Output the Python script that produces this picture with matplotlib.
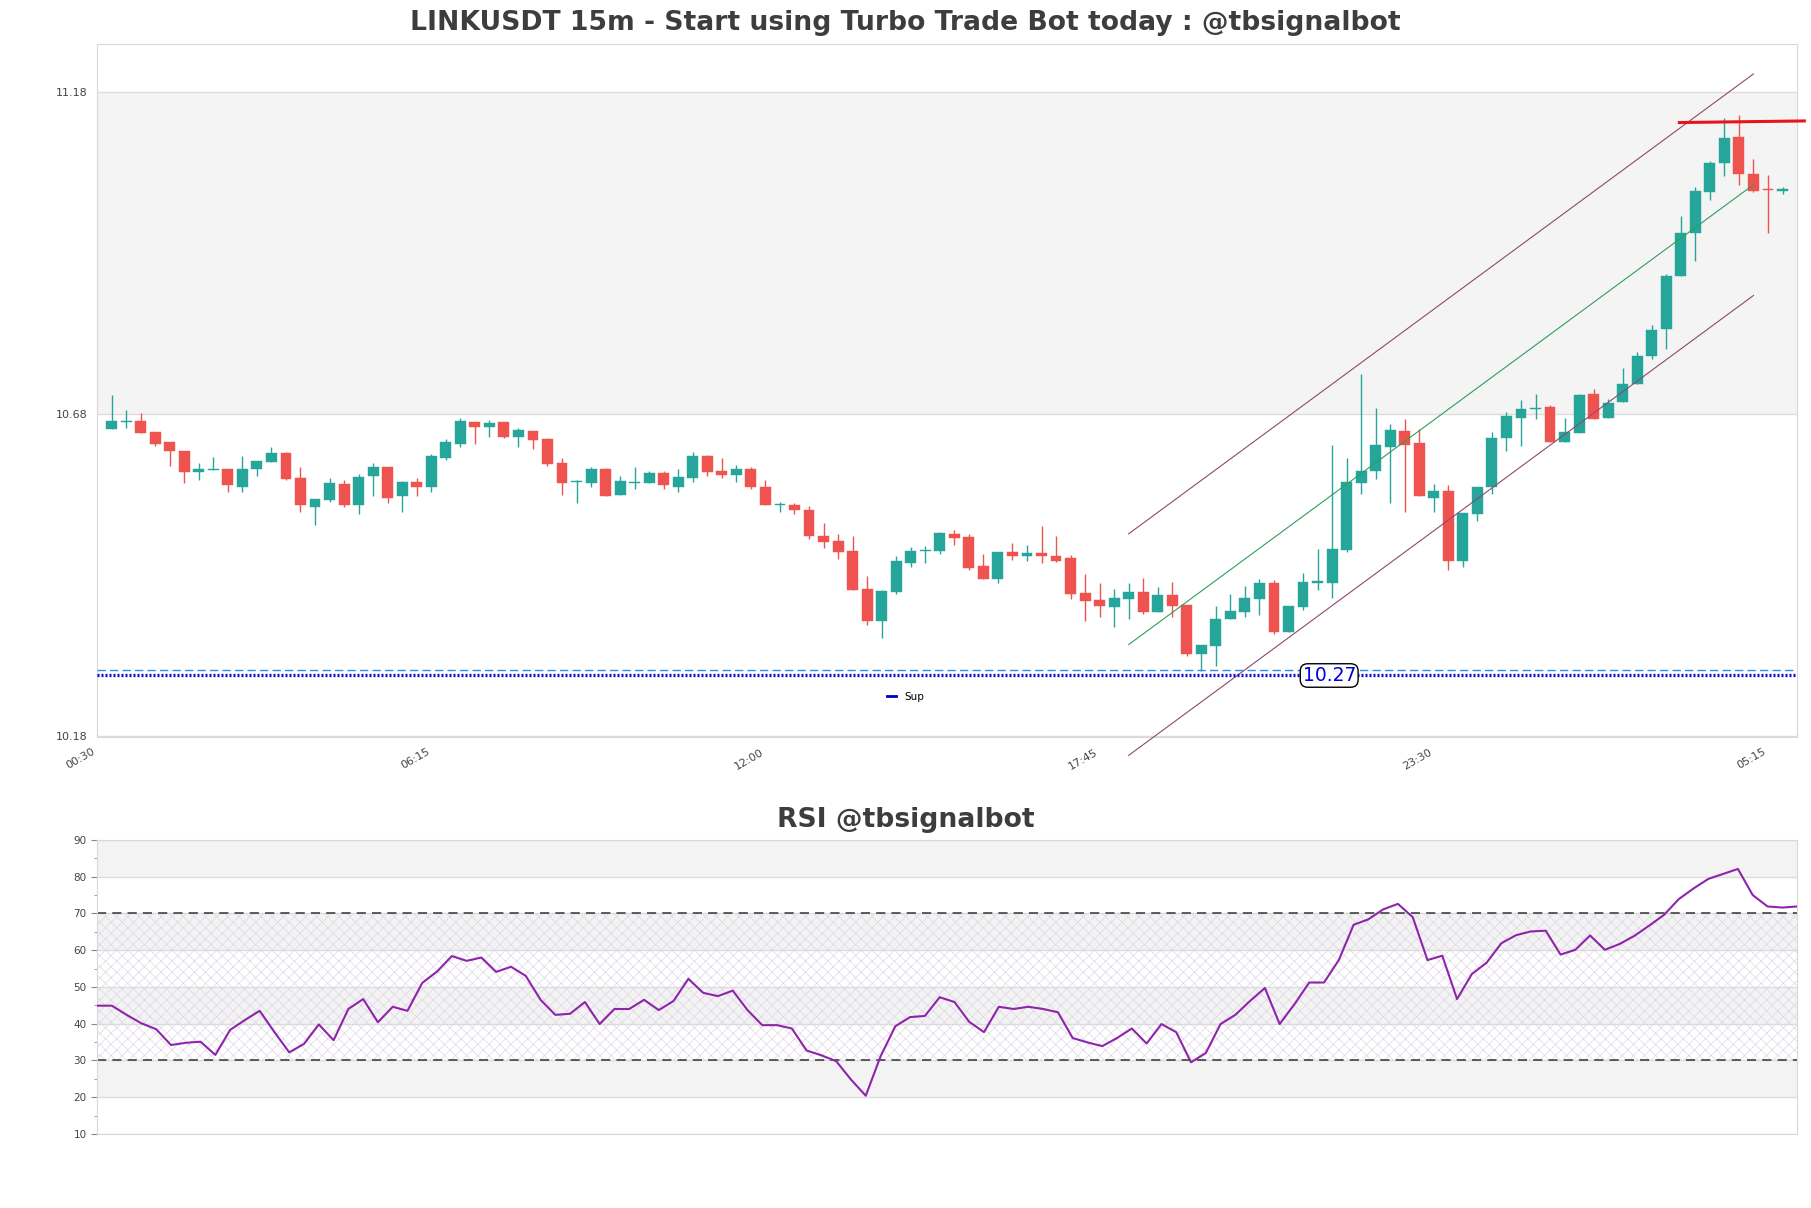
import numpy as np
import matplotlib
matplotlib.use("Agg")
import matplotlib.pyplot as plt
from matplotlib.lines import Line2D

# ---------------- data ----------------
title = "LINKUSDT 15m - Start using Turbo Trade Bot today : @tbsignalbot"
rsi_title = "RSI @tbsignalbot"
time_labels = ["00:30", "06:15", "12:00", "17:45", "23:30", "05:15"]
price_ticks = [10.18, 10.68, 11.18]
rsi_ticks = [10, 20, 30, 40, 50, 60, 70, 80, 90]

opens = [10.657, 10.668, 10.669, 10.652, 10.636, 10.623, 10.590, 10.593, 10.595, 10.567,
         10.594, 10.606, 10.619, 10.581, 10.536, 10.547, 10.571, 10.538, 10.583, 10.597,
         10.552, 10.574, 10.566, 10.612, 10.634, 10.668, 10.660, 10.667, 10.645, 10.654,
         10.641, 10.604, 10.574, 10.573, 10.595, 10.555, 10.573, 10.573, 10.589, 10.567,
         10.581, 10.615, 10.592, 10.586, 10.595, 10.567, 10.538, 10.538, 10.531, 10.491,
         10.483, 10.467, 10.408, 10.358, 10.404, 10.449, 10.467, 10.468, 10.494, 10.489,
         10.444, 10.424, 10.466, 10.459, 10.464, 10.460, 10.456, 10.402, 10.391, 10.381,
         10.393, 10.404, 10.373, 10.399, 10.383, 10.307, 10.320, 10.361, 10.373, 10.392,
         10.417, 10.342, 10.381, 10.418, 10.417, 10.469, 10.573, 10.591, 10.629, 10.654,
         10.635, 10.550, 10.560, 10.452, 10.525, 10.566, 10.642, 10.674, 10.688, 10.691,
         10.637, 10.651, 10.711, 10.674, 10.698, 10.726, 10.770, 10.812, 10.895, 10.961,
         11.025, 11.069, 11.110, 11.052, 11.028, 11.026]
highs = [10.709, 10.686, 10.681, 10.652, 10.636, 10.623, 10.604, 10.613, 10.595, 10.615,
         10.607, 10.629, 10.621, 10.597, 10.548, 10.581, 10.578, 10.587, 10.604, 10.598,
         10.576, 10.581, 10.618, 10.641, 10.674, 10.668, 10.671, 10.667, 10.658, 10.654,
         10.642, 10.611, 10.578, 10.597, 10.596, 10.583, 10.598, 10.592, 10.592, 10.595,
         10.621, 10.616, 10.612, 10.601, 10.597, 10.578, 10.543, 10.542, 10.537, 10.511,
         10.494, 10.491, 10.428, 10.407, 10.460, 10.474, 10.475, 10.497, 10.500, 10.494,
         10.463, 10.466, 10.480, 10.477, 10.506, 10.491, 10.461, 10.432, 10.418, 10.408,
         10.418, 10.425, 10.411, 10.419, 10.383, 10.321, 10.382, 10.401, 10.413, 10.424,
         10.422, 10.382, 10.433, 10.470, 10.632, 10.611, 10.742, 10.690, 10.665, 10.672,
         10.656, 10.572, 10.570, 10.526, 10.566, 10.652, 10.683, 10.702, 10.711, 10.694,
         10.674, 10.711, 10.719, 10.703, 10.751, 10.777, 10.818, 10.897, 10.988, 11.033,
         11.073, 11.139, 11.144, 11.076, 11.051, 11.032]
lows = [10.657, 10.659, 10.650, 10.631, 10.600, 10.573, 10.577, 10.593, 10.559, 10.559,
        10.584, 10.606, 10.577, 10.528, 10.507, 10.544, 10.535, 10.525, 10.552, 10.542,
        10.528, 10.552, 10.559, 10.608, 10.629, 10.634, 10.645, 10.642, 10.628, 10.625,
        10.600, 10.555, 10.542, 10.566, 10.552, 10.555, 10.563, 10.573, 10.563, 10.559,
        10.575, 10.583, 10.580, 10.575, 10.563, 10.538, 10.528, 10.525, 10.486, 10.472,
        10.455, 10.406, 10.353, 10.332, 10.401, 10.443, 10.448, 10.462, 10.476, 10.438,
        10.424, 10.417, 10.454, 10.452, 10.448, 10.450, 10.393, 10.359, 10.365, 10.350,
        10.361, 10.370, 10.373, 10.365, 10.305, 10.281, 10.289, 10.361, 10.365, 10.368,
        10.338, 10.341, 10.375, 10.407, 10.395, 10.465, 10.556, 10.579, 10.542, 10.528,
        10.552, 10.528, 10.438, 10.443, 10.514, 10.556, 10.623, 10.631, 10.673, 10.636,
        10.637, 10.651, 10.673, 10.674, 10.698, 10.726, 10.765, 10.781, 10.895, 10.917,
        11.013, 11.050, 11.035, 11.024, 10.961, 11.021]
closes = [10.669, 10.669, 10.651, 10.634, 10.622, 10.590, 10.594, 10.594, 10.569, 10.595,
          10.607, 10.619, 10.579, 10.538, 10.548, 10.573, 10.538, 10.582, 10.598, 10.550,
          10.574, 10.566, 10.615, 10.637, 10.669, 10.660, 10.666, 10.645, 10.655, 10.640,
          10.603, 10.573, 10.576, 10.595, 10.553, 10.576, 10.574, 10.588, 10.569, 10.582,
          10.615, 10.590, 10.586, 10.595, 10.566, 10.538, 10.539, 10.531, 10.490, 10.482,
          10.466, 10.407, 10.358, 10.405, 10.451, 10.467, 10.469, 10.496, 10.488, 10.441,
          10.424, 10.466, 10.459, 10.464, 10.459, 10.452, 10.401, 10.390, 10.382, 10.394,
          10.404, 10.373, 10.399, 10.382, 10.307, 10.321, 10.362, 10.374, 10.394, 10.418,
          10.342, 10.382, 10.419, 10.420, 10.470, 10.575, 10.592, 10.632, 10.655, 10.632,
          10.552, 10.560, 10.452, 10.526, 10.566, 10.643, 10.677, 10.688, 10.690, 10.636,
          10.652, 10.710, 10.673, 10.697, 10.727, 10.770, 10.810, 10.894, 10.961, 11.026,
          11.069, 11.108, 11.052, 11.026, 11.027, 11.029]

rsi = [44.9, 44.9, 42.4, 40.1, 38.5, 34.2, 34.8, 35.1, 31.5, 38.3,
       41.0, 43.5, 37.7, 32.2, 34.5, 39.8, 35.5, 44.0, 46.7, 40.4,
       44.6, 43.5, 51.1, 54.2, 58.4, 57.1, 58.0, 54.1, 55.5, 53.0,
       46.5, 42.4, 42.7, 45.9, 39.9, 44.0, 44.0, 46.5, 43.7, 46.2,
       52.2, 48.4, 47.5, 49.0, 43.7, 39.6, 39.6, 38.7, 32.7, 31.4,
       29.8, 24.8, 20.4, 31.1, 39.3, 41.8, 42.1, 47.2, 45.9, 40.5,
       37.7, 44.6, 44.0, 44.6, 44.0, 43.1, 36.1, 34.9, 33.9, 36.1,
       38.7, 34.6, 39.9, 37.7, 29.5, 32.0, 39.9, 42.4, 46.2, 49.7,
       39.9, 45.3, 51.2, 51.2, 57.3, 66.9, 68.4, 71.1, 72.6, 69.0,
       57.3, 58.5, 46.7, 53.5, 56.6, 61.9, 64.1, 65.1, 65.3, 58.8,
       60.1, 64.0, 60.1, 61.7, 63.9, 66.7, 69.6, 73.9, 76.8, 79.4,
       80.75, 82.1, 75.0, 71.9, 71.6, 71.9]

support_level = 10.274
support_dash_level = 10.283
support_text = "10.27"
support_text_x = 83.8
resistance_level = [11.1325, 11.135]
resistance_x = [107.9, 116.5]
channel_x = [70, 113]
channel_mid = [10.322, 11.036]
channel_half = 0.172
rsi_upper, rsi_lower = 70, 30

# ---------------- style ----------------
GREEN = "#26a69a"
RED = "#ef5350"
BAND = "#f4f4f4"
GRID = "#dcdcdc"
SPINE = "#d8d8d8"
TXT = "#444444"
plt.rcParams["hatch.linewidth"] = 0.45

n = len(opens)
x = np.arange(n)
o = np.array(opens); h = np.array(highs); l = np.array(lows); c = np.array(closes)

fig = plt.figure(figsize=(18.11, 12.08), dpi=100)
ax = fig.add_axes([0.0536, 0.3899, 0.9387, 0.5737])
ax2 = fig.add_axes([0.0536, 0.0613, 0.9387, 0.2434])

# ---- main chart ----
ylo, yhi = 10.1785, 11.2545
ax.set_xlim(-1, n)
ax.set_ylim(ylo, yhi)
edges = [ylo] + price_ticks[1:] + [yhi]
for k in range(len(edges) - 1):
    if k % 2 == 1:
        ax.axhspan(edges[k], edges[k + 1], color=BAND, zorder=0, lw=0)
for t in price_ticks:
    ax.axhline(t, color=GRID, lw=1, zorder=0.5)

up = c >= o
cols = np.where(up, GREEN, RED)
ax.vlines(x, l, h, colors=cols, lw=1.0, zorder=2)
body_lo = np.minimum(o, c)
body_h = np.maximum(np.abs(c - o), 0.0018)
ax.bar(x, body_h, bottom=body_lo, width=0.75, color=cols, edgecolor=cols, lw=0.3, zorder=3)

# channel
cm = np.array(channel_mid)
ax.plot(channel_x, cm + channel_half, color="#8c4a6e", lw=0.8, zorder=4, clip_on=False)
ax.plot(channel_x, cm, color="#2e9e5b", lw=0.8, zorder=4, clip_on=False)
ax.plot(channel_x, cm - channel_half, color="#8c4a6e", lw=0.8, zorder=4, clip_on=False)

# support
ax.axhline(support_dash_level, color="#2f8fe0", lw=1.0, ls=(0, (6, 3)), zorder=4)
ax.axhline(support_level, color="#1010d0", lw=2.4, ls=(0, (0.6, 0.6)), zorder=4)
ax.text(support_text_x, support_level, support_text, color="#0000e0", fontsize=13.5,
        ha="center", va="center", zorder=6,
        bbox=dict(boxstyle="round,pad=0.12,rounding_size=0.4", fc="white", ec="black", lw=1))

# resistance
ax.plot(resistance_x, resistance_level, color="#e8141c", lw=2.2, zorder=5, clip_on=False)

ax.set_yticks(price_ticks)
ax.set_yticklabels([f"{t:.2f}" for t in price_ticks])
tick_pos = [-1 + 23 * k for k in range(len(time_labels))]
ax.set_xticks(tick_pos)
ax.set_xticklabels(time_labels, rotation=30, ha="right")
ax.tick_params(axis="both", length=0, pad=7, labelsize=8, labelcolor=TXT)
for s in ax.spines.values():
    s.set_color(SPINE)

leg_handle = Line2D([0], [0], color="#0000c0", lw=2)
fig.legend([leg_handle], ["Sup"], loc="center", bbox_to_anchor=(0.5, 0.423),
           frameon=False, fontsize=7.5, handlelength=0.9, handletextpad=0.8)

fig.text(0.5, 0.981, title, ha="center", va="center", fontsize=19.2,
         fontweight="bold", color="#3d3d3d")
fig.text(0.5, 0.321, rsi_title, ha="center", va="center", fontsize=19.2,
         fontweight="bold", color="#3d3d3d")

# ---- RSI ----
ax2.set_xlim(0, n - 1)
ax2.set_ylim(10, 90)
for k in range(len(rsi_ticks) - 1):
    if k % 2 == 1:
        ax2.axhspan(rsi_ticks[k], rsi_ticks[k + 1], color="#f3f3f3", zorder=0, lw=0)
for t in rsi_ticks:
    ax2.axhline(t, color=GRID, lw=1, zorder=0.5)
ax2.fill_between([0, n - 1], rsi_lower, rsi_upper, facecolor="none",
                 edgecolor="#dcd3e2", hatch="xxx", lw=0, zorder=1)
ax2.axhline(rsi_upper, color="#333333", lw=1.1, ls=(0, (6, 4)), zorder=2)
ax2.axhline(rsi_lower, color="#333333", lw=1.1, ls=(0, (6, 4)), zorder=2)
ax2.plot(np.arange(len(rsi)), rsi, color="#8e24aa", lw=1.5, zorder=3)

ax2.set_yticks(rsi_ticks)
ax2.set_yticks(np.arange(15, 90, 10), minor=True)
ax2.set_xticks([])
ax2.tick_params(axis="y", which="major", length=4, color="#888888", labelsize=7.5, labelcolor=TXT)
ax2.tick_params(axis="y", which="minor", length=2, color="#888888")
for s in ax2.spines.values():
    s.set_color(SPINE)

fig.savefig("out.png", dpi=100, facecolor="white")
